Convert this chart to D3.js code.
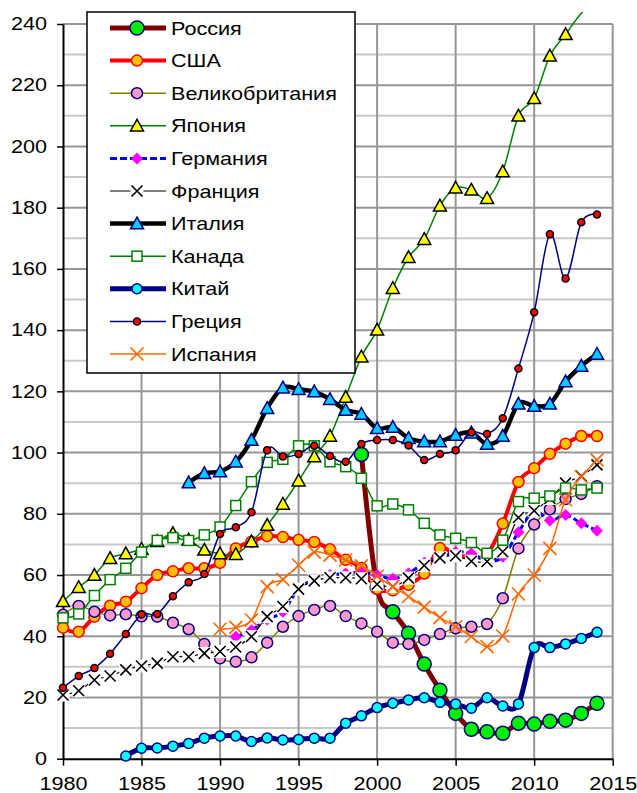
<!doctype html>
<html>
<head>
<meta charset="utf-8">
<script src="https://cdn.jsdelivr.net/npm/d3@7"></script>
<style>
  body { margin: 0; background: #fff; }
  text { font-family: "Liberation Sans", Arial, sans-serif; fill: #000; }
</style>
</head>
<body>
<svg width="637" height="793"></svg>
<script>
// years 1980..2014, null = no data
var years = d3.range(1980, 2015);
var xTicks = [1980, 1985, 1990, 1995, 2000, 2005, 2010, 2015];
var yTicks = [0, 20, 40, 60, 80, 100, 120, 140, 160, 180, 200, 220, 240];

var russia = [null, null, null, null, null, null, null, null, null, null,
  null, null, null, null, null, null, null, null, null, 99.4,
  56, 48.0, 41.0, 30.9, 22.4, 14.8, 9.6, 8.8, 8.3, 11.6,
  11.3, 12.2, 12.6, 14.8, 18.1];
var usa = [42.8, 41.5, 46.4, 50.0, 51.3, 55.7, 60.0, 61.2, 62.2, 62.2,
  64.0, 68.7, 70.9, 72.7, 72.4, 71.5, 70.8, 68.4, 65.0, 62.3,
  55.5, 55.0, 56.8, 60.5, 68.8, 66.5, 66.0, 66.8, 76.8, 90.4,
  94.9, 99.6, 102.9, 105.4, 105.4];
var uk = [47.0, 49.9, 48.0, 46.8, 47.2, 46.5, 46.4, 44.4, 42.3, 37.5,
  32.8, 31.7, 33.1, 37.9, 43.1, 46.6, 48.6, 49.9, 46.6, 44.2,
  41.5, 37.9, 37.5, 38.8, 40.7, 42.6, 43.1, 44.0, 52.4, 68.7,
  76.5, 81.5, 84.8, 86.5, 89.0];
var japan = [51.4, 56.0, 60.0, 65.5, 67.0, 68.5, 71.0, 73.6, 71.5, 68.2,
  67.0, 66.8, 70.9, 76.3, 83.2, 90.8, 98.7, 105.4, 118.1, 131.3,
  140.1, 153.7, 163.8, 169.7, 180.6, 186.5, 185.8, 183.1, 191.8, 210.0,
  215.7, 229.6, 236.6, 243.5, 248.0];
var germany = [null, null, null, null, null, null, null, null, null, null,
  null, 39.8, 42.0, 45.5, 48.0, 55.5, 58.5, 60.0, 60.5, 61.0,
  60.0, 58.8, 60.5, 64.0, 65.5, 67.5, 67.0, 64.5, 66.0, 74.0,
  81.0, 77.8, 79.6, 76.9, 74.5];
var france = [20.8, 22.2, 25.7, 27.0, 29.0, 30.3, 31.2, 33.3, 33.3, 34.4,
  35.0, 36.5, 39.9, 46.4, 49.7, 55.4, 58.1, 59.1, 59.1, 58.8,
  57.0, 56.2, 59.0, 63.1, 65.6, 66.3, 64.5, 64.4, 67.6, 78.8,
  81.0, 85.0, 90.0, 92.3, 96.0];
var italy = [null, null, null, null, null, null, null, null, 90.2, 93.2,
  93.8, 97.0, 104.1, 114.5, 121.2, 120.7, 119.9, 117.4, 113.9, 112.6,
  107.9, 108.3, 104.7, 103.6, 103.6, 105.7, 106.5, 102.8, 105.4, 115.9,
  115.2, 115.9, 123.2, 128.3, 132.2];
var canada = [46.0, 47.3, 53.3, 58.5, 62.2, 67.5, 71.3, 72.2, 71.3, 73.1,
  75.7, 82.7, 90.5, 96.8, 97.8, 102.2, 102.2, 97.0, 95.4, 91.6,
  82.6, 83.2, 81.3, 76.9, 73.1, 72.0, 70.6, 67.1, 71.4, 84.0,
  85.1, 85.8, 88.4, 87.8, 88.4];
var china = [null, null, null, null, 0.9, 3.4, 3.5, 4.1, 5.0, 6.7,
  7.4, 7.4, 5.6, 6.8, 6.1, 6.3, 6.7, 6.7, 11.6, 14.0,
  16.7, 18.1, 19.2, 19.9, 18.4, 17.9, 16.5, 19.9, 17.2, 17.9,
  36.3, 36.3, 37.5, 39.3, 41.3];
var greece = [23.2, 27.0, 29.6, 34.3, 40.7, 47.1, 47.3, 53.1, 57.6, 60.3,
  73.4, 75.6, 80.5, 100.8, 98.7, 99.5, 102.2, 98.9, 97.0, 102.8,
  104.1, 104.1, 102.3, 97.6, 99.5, 100.8, 106.6, 106.1, 111.2, 127.5,
  145.8, 171.3, 156.9, 175.2, 177.8];
var spain = [null, null, null, null, null, null, null, null, null, null,
  42.3, 42.9, 45.3, 56.2, 58.6, 63.2, 67.5, 66.5, 64.9, 63.0,
  59.6, 56.2, 53.0, 49.5, 46.1, 43.1, 39.9, 36.6, 40.1, 53.8,
  60.0, 68.7, 84.6, 92.1, 97.6];

var names = ["Россия", "США", "Великобритания", "Япония", "Германия", "Франция",
  "Италия", "Канада", "Китай", "Греция", "Испания"];
var values = [russia, usa, uk, japan, germany, france, italy, canada, china, greece, spain];

// look of each series
var styles = [
  {line: "#800000", lw: 5, marker: "circle", size: 7, fill: "#00ee00", stroke: "#000080"},
  {line: "#ff0000", lw: 4, marker: "circle", size: 5.5, fill: "#ffc000", stroke: "#ff0000"},
  {line: "#808000", lw: 1.5, marker: "circle", size: 5.5, fill: "#ff99cc", stroke: "#000080"},
  {line: "#008000", lw: 1.5, marker: "triangle", size: 6.5, fill: "#ffff00", stroke: "#000000"},
  {line: "#0000ff", lw: 3, dash: "7,3", marker: "diamond", size: 6, fill: "#ff00ff", stroke: "none"},
  {line: "#000000", lw: 1.2, marker: "x", size: 5.5, fill: "#ffffff", stroke: "#000000"},
  {line: "#000000", lw: 4.5, marker: "triangle", size: 6.5, fill: "#00ccff", stroke: "#000080"},
  {line: "#008000", lw: 1.5, marker: "square", size: 5, fill: "#ffffff", stroke: "#008000"},
  {line: "#000080", lw: 5, marker: "circle", size: 5, fill: "#00ffff", stroke: "#000080"},
  {line: "#000080", lw: 1.5, marker: "circle", size: 3.5, fill: "#ff0000", stroke: "#000000"},
  {line: "#ff6600", lw: 1.5, marker: "x", size: 6.5, fill: "none", stroke: "#ff6600"}
];

var svg = d3.select("svg"),
    pLeft = 63, pTop = 24, pRight = 612.7, pBottom = 758.7,
    stretch = 1.2;   // the source text is drawn wider than Arial

var x = d3.scaleLinear().domain([1980, 2015]).range([pLeft, pRight]),
    y = d3.scaleLinear().domain([0, 240]).range([pBottom, pTop]);

svg.append("defs").append("clipPath").attr("id", "clip")
   .append("rect").attr("x", pLeft - 8).attr("y", 12)
   .attr("width", pRight - pLeft + 16).attr("height", pBottom - 12 + 8);

// grid
var grid = svg.append("g");
grid.selectAll(".minor").data(d3.range(10, 240, 20)).enter().append("line")
    .attr("x1", pLeft).attr("x2", pRight)
    .attr("y1", function(d) { return y(d); }).attr("y2", function(d) { return y(d); })
    .attr("stroke", "#c8c8c8").attr("stroke-width", 2);
grid.selectAll(".major").data(yTicks.slice(1)).enter().append("line")
    .attr("x1", pLeft).attr("x2", pRight)
    .attr("y1", function(d) { return y(d); }).attr("y2", function(d) { return y(d); })
    .attr("stroke", "#969696").attr("stroke-width", 2);
grid.selectAll(".vert").data(xTicks.slice(1)).enter().append("line")
    .attr("y1", pTop).attr("y2", pBottom)
    .attr("x1", function(d) { return x(d); }).attr("x2", function(d) { return x(d); })
    .attr("stroke", "#969696").attr("stroke-width", 2);

// axes
var yAxis = svg.append("g").attr("transform", "translate(" + pLeft + ",0)")
   .call(d3.axisLeft(y).tickValues(yTicks).tickSize(6).tickPadding(10).tickSizeOuter(0));
var xAxis = svg.append("g").attr("transform", "translate(0," + pBottom + ")")
   .call(d3.axisBottom(x).tickValues(xTicks).tickFormat(d3.format("d"))
         .tickSize(7).tickPadding(12).tickSizeOuter(0));
[yAxis, xAxis].forEach(function(a) {
  a.select(".domain").attr("stroke", "#000").attr("stroke-width", 2);
  a.selectAll(".tick line").attr("stroke", "#000").attr("stroke-width", 1.5);
  a.selectAll("text").attr("font-size", "18px")
   .attr("font-family", "'Liberation Sans', Arial, sans-serif");
});
xAxis.selectAll("text").attr("transform", "scale(" + stretch + ",1)");
yAxis.selectAll("text").attr("x", -16 / stretch).attr("transform", "scale(" + stretch + ",1)");

function drawMarker(g, st) {
  var s = st.size;
  if (st.marker == "circle") {
    g.append("circle").attr("r", s).attr("fill", st.fill)
     .attr("stroke", st.stroke).attr("stroke-width", 1.5);
  } else if (st.marker == "triangle") {
    g.append("path").attr("d", "M0," + (-s) + "L" + s + "," + (s * 0.8) + "L" + (-s) + "," + (s * 0.8) + "Z")
     .attr("fill", st.fill).attr("stroke", st.stroke).attr("stroke-width", 1.5);
  } else if (st.marker == "square") {
    g.append("rect").attr("x", -s).attr("y", -s).attr("width", 2 * s).attr("height", 2 * s)
     .attr("fill", st.fill).attr("stroke", st.stroke).attr("stroke-width", 1.5);
  } else if (st.marker == "diamond") {
    g.append("path").attr("d", "M0," + (-s) + "L" + s + ",0L0," + s + "L" + (-s) + ",0Z")
     .attr("fill", st.fill);
  } else if (st.marker == "x") {
    if (st.fill != "none") {
      g.append("rect").attr("x", -s - 1).attr("y", -s - 1)
       .attr("width", 2 * s + 2).attr("height", 2 * s + 2).attr("fill", st.fill);
    }
    g.append("path").attr("d", "M" + (-s) + "," + (-s) + "L" + s + "," + s + "M" + s + "," + (-s) + "L" + (-s) + "," + s)
     .attr("stroke", st.stroke).attr("stroke-width", 1.6).attr("fill", "none");
  }
}

var line = d3.line()
    .defined(function(d) { return d != null; })
    .x(function(d, i) { return x(years[i]); })
    .y(function(d) { return y(d); })
    .curve(d3.curveCardinal.tension(0));

var plot = svg.append("g");
values.forEach(function(data, k) {
  var st = styles[k];
  plot.append("path")
      .datum(data)
      .attr("clip-path", "url(#clip)")
      .attr("fill", "none")
      .attr("stroke", st.line)
      .attr("stroke-width", st.lw)
      .attr("stroke-dasharray", st.dash || null)
      .attr("stroke-linejoin", "round")
      .attr("d", line);

  var pts = data.map(function(d, i) { return {year: years[i], v: d}; })
                .filter(function(d) { return d.v != null && d.v <= 240; });
  plot.selectAll(".m" + k).data(pts).enter().append("g")
      .attr("transform", function(d) { return "translate(" + x(d.year) + "," + y(d.v) + ")"; })
      .each(function() { drawMarker(d3.select(this), st); });
});

// legend
var legend = svg.append("g");
legend.append("rect").attr("x", 87).attr("y", 12).attr("width", 268).attr("height", 361)
      .attr("fill", "#fff").attr("stroke", "#000").attr("stroke-width", 1.5);
names.forEach(function(name, k) {
  var st = styles[k], cy = 28 + k * 32.6;
  legend.append("line").attr("x1", 110).attr("x2", 166).attr("y1", cy).attr("y2", cy)
        .attr("stroke", st.line).attr("stroke-width", st.lw)
        .attr("stroke-dasharray", st.dash || null);
  drawMarker(legend.append("g").attr("transform", "translate(137," + cy + ")"), st);
  legend.append("text")
        .attr("transform", "translate(171," + (cy + 6.5) + ") scale(" + stretch + ",1)")
        .attr("font-size", "18px").text(name);
});
</script>
</body>
</html>
